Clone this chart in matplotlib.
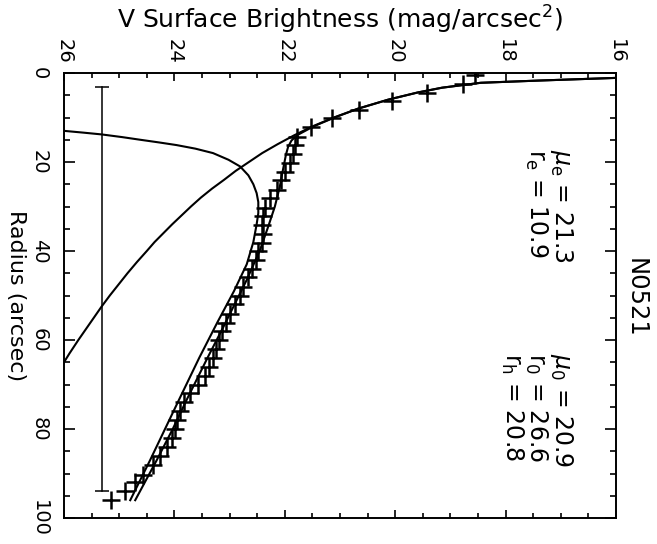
import numpy as np
import matplotlib
matplotlib.use("Agg")
import matplotlib.pyplot as plt
from matplotlib.ticker import MultipleLocator

# measured profile (radius in arcsec, V surface brightness in mag/arcsec^2)
radius = [0.5, 2.5, 4.4, 6.2, 8.3, 10.2, 12.2, 14.3, 16.2, 18.2, 20.3, 22.2,
          24.0, 26.3, 28.2, 30.4, 32.1, 34.2, 36.2, 38.2, 40.0, 42.1, 44.0,
          45.9, 48.1, 50.0, 52.0, 54.1, 56.1, 58.0, 60.0, 62.0, 64.0, 66.0,
          68.0, 70.0, 72.0, 74.0, 76.0, 78.0, 80.0, 82.0, 84.0, 86.0, 88.0,
          90.4, 92.0, 94.0, 96.0]
mu = [18.55, 18.78, 19.43, 20.06, 20.65, 21.15, 21.53, 21.78, 21.82, 21.85,
      21.91, 22.00, 22.06, 22.15, 22.27, 22.36, 22.40, 22.42, 22.39, 22.42,
      22.48, 22.52, 22.60, 22.66, 22.75, 22.81, 22.90, 22.99, 23.07, 23.14,
      23.20, 23.25, 23.30, 23.37, 23.45, 23.57, 23.72, 23.83, 23.90, 23.95,
      23.99, 24.05, 24.13, 24.26, 24.38, 24.56, 24.71, 24.89, 25.14]

# bulge model curve
bulge_r = [1.1, 1.7, 2.2, 3.3, 4.4, 6, 8, 10, 12, 14, 16, 18, 20, 22, 24, 26,
           28, 30, 32, 34, 36, 38, 40, 42.5, 45, 47.5, 50, 52.5, 55, 57.5,
           60, 63, 66]
bulge_mu = [16.0, 17.4, 18.45, 19.15, 19.6, 20.13, 20.67, 21.11, 21.5, 21.83,
            22.13, 22.41, 22.65, 22.89, 23.1, 23.32, 23.52, 23.7, 23.87, 24.04,
            24.2, 24.36, 24.5, 24.68, 24.85, 25.01, 25.17, 25.32, 25.46, 25.6,
            25.74, 25.9, 26.05]

# disk model curve
disk_r = [13.0, 13.4, 13.8, 14.4, 15.0, 15.6, 16.2, 17.0, 18.0, 19.5, 21.0,
          23.0, 25.0, 27.0, 29.0, 31.5, 34.0, 38.0, 43.0, 49.0, 56.0, 64.0,
          73.0, 80.0, 87.0, 96.0]
disk_mu = [26.0, 25.65, 25.32, 24.95, 24.62, 24.28, 23.96, 23.62, 23.30,
           23.02, 22.81, 22.66, 22.57, 22.51, 22.48, 22.48, 22.51, 22.57,
           22.69, 22.92, 23.22, 23.55, 23.9, 24.17, 24.44, 24.80]

# bulge + disk
total_r = [1.1, 1.7, 2.2, 3.3, 4.4, 6, 8, 10, 12, 14, 15.2, 16.6, 18.4, 20.3,
           22.8, 25.5, 30.0, 34.5, 39.8, 46.5, 52.5, 57.0, 64.0, 73.5, 80.0,
           87.0, 96.0]
total_mu = [16.0, 17.4, 18.45, 19.15, 19.6, 20.13, 20.67, 21.1, 21.48, 21.78,
            21.88, 21.94, 21.98, 22.01, 22.05, 22.09, 22.18, 22.30, 22.45,
            22.69, 22.93, 23.11, 23.4, 23.78, 24.03, 24.32, 24.71]

# sky level bar
sky_mu = 25.32
sky_r = [3.2, 94.0]

fig = plt.figure(figsize=(6.57, 5.44), dpi=100)
ax = fig.add_axes([64 / 657, 1 - 518 / 544, 552 / 657, 445 / 544])

lw = 1.5
ax.plot(bulge_mu, bulge_r, 'k-', lw=lw)
ax.plot(disk_mu, disk_r, 'k-', lw=lw)
ax.plot(total_mu, total_r, 'k-', lw=lw)
ax.plot(mu, radius, 'k+', ms=12.5, mew=1.8)
ax.plot([sky_mu, sky_mu], sky_r, 'k-', lw=1.1, marker='_', ms=9.5, mew=1.1)

ax.set_xlim(26, 16)
ax.set_ylim(100, 0)
ax.xaxis.set_major_locator(MultipleLocator(2))
ax.xaxis.set_minor_locator(MultipleLocator(0.5))
ax.yaxis.set_major_locator(MultipleLocator(20))
ax.yaxis.set_minor_locator(MultipleLocator(5))
ax.tick_params(which='both', direction='in', top=True, bottom=True,
               left=True, right=True, labeltop=True, labelbottom=False,
               width=1.2, labelsize=14)
ax.tick_params(axis='x', which='major', length=6, pad=7, labelrotation=-90)
ax.tick_params(axis='x', which='minor', length=3.5)
ax.tick_params(axis='y', which='major', length=8, pad=11, labelrotation=-90)
ax.tick_params(axis='y', which='minor', length=4)
for lab in ax.get_yticklabels():
    lab.set_va('center')
for sp in ax.spines.values():
    sp.set_linewidth(1.4)

ax.xaxis.set_label_position('top')
ax.set_xlabel('V Surface Brightness (mag/arcsec$^2$)', fontsize=18, labelpad=7)
ax.set_ylabel('Radius (arcsec)', fontsize=16, rotation=-90, labelpad=3,
              va='top')

ax.text(1.036, 0.494, 'N0521', transform=ax.transAxes, rotation=-90,
        ha='center', va='center', fontsize=17.5)

ax.text(16.98, 17.0, r'$\mu_{\rm e}$ = 21.3', rotation=-90, ha='center',
        va='top', fontsize=17)
ax.text(17.44, 17.0, r'r$_{\rm e}$ = 10.9', rotation=-90, ha='center',
        va='top', fontsize=17)
ax.text(16.98, 63.0, r'$\mu_{\rm 0}$ = 20.9', rotation=-90, ha='center',
        va='top', fontsize=17)
ax.text(17.44, 63.0, r'r$_{\rm 0}$ = 26.6', rotation=-90, ha='center',
        va='top', fontsize=17)
ax.text(17.88, 63.0, r'r$_{\rm h}$ = 20.8', rotation=-90, ha='center',
        va='top', fontsize=17)

fig.savefig('out.png', dpi=100)
